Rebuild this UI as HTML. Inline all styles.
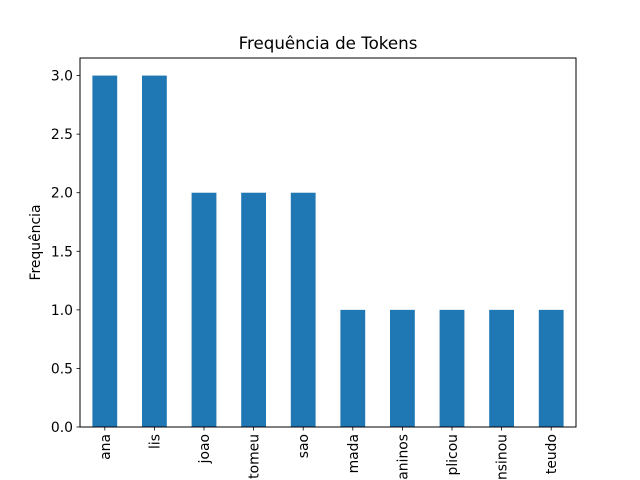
<!DOCTYPE html>
<html><head><meta charset="utf-8"><style>
html,body{margin:0;padding:0;background:#fff;width:640px;height:480px;overflow:hidden}
svg{display:block;font-family:"DejaVu Sans","Liberation Sans",sans-serif}
</style></head><body>
<svg id="chart" width="640" height="480" viewBox="0 0 640 480">
<rect width="640" height="480" fill="#fff"/>
<text x="328" y="49" font-size="16.7" text-anchor="middle" fill="#000">Frequência de Tokens</text>
<g id="bars"></g><g id="yticks"></g><g id="xticks"></g>
<rect x="80" y="58" width="496" height="369" fill="none" stroke="#000" stroke-width="1"/>
<text transform="translate(40,242.5) rotate(-90)" font-size="13.9" text-anchor="middle" fill="#000">Frequência</text>
</svg>
<script>
const categories = ["ana","lis","joao","tomeu","sao","mada","aninos","plicou","nsinou","teudo"];
const counts = [3,3,2,2,2,1,1,1,1,1];
const yTickValues = [0,0.5,1,1.5,2,2.5,3];
const yTickLabels = ["0.0","0.5","1.0","1.5","2.0","2.5","3.0"];
const NS="http://www.w3.org/2000/svg";
const L=80,R=576,T=58,B=427;
const yMax=Math.max(...counts)*1.05;
const n=categories.length;
const xs=i=>L+(i+0.5)*(R-L)/n;
const ys=v=>B-(v/yMax)*(B-T);
const bw=0.5*(R-L)/n;
const gb=document.getElementById('bars'),gy=document.getElementById('yticks'),gx=document.getElementById('xticks');
function mk(t,a){const e=document.createElementNS(NS,t);for(const k in a)e.setAttribute(k,a[k]);return e;}
counts.forEach((v,i)=>{
  const r=mk('rect',{x:xs(i)-bw/2,y:ys(v),width:bw,height:B-ys(v),fill:'#1f77b4'});
  
  
  gb.appendChild(r);
  const tk=mk('line',{x1:xs(i),x2:xs(i),y1:B,y2:B+3.5,stroke:'#000','stroke-width':0.8});
  
  
  gx.appendChild(tk);
  const t=mk('text',{transform:`translate(${xs(i)+5},${B+7}) rotate(-90)`,'font-size':13.9,'text-anchor':'end',fill:'#000'});
  t.textContent=categories[i];
  
  
  gx.appendChild(t);
});
yTickValues.forEach((v,i)=>{
  const tk=mk('line',{x1:L-3.5,x2:L,y1:ys(v),y2:ys(v),stroke:'#000','stroke-width':0.8});
  
  
  gy.appendChild(tk);
  const t=mk('text',{x:L-7,y:ys(v)+5,'font-size':13.9,'text-anchor':'end',fill:'#000'});
  t.textContent=yTickLabels[i];
  
  
  gy.appendChild(t);
});
</script>
</body></html>
